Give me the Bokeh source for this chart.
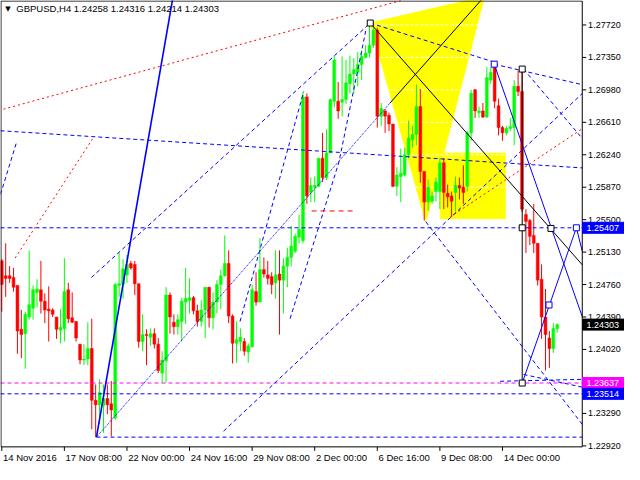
from bokeh.plotting import figure
from bokeh.models import ColumnDataSource
from bokeh.core.properties import value
from bokeh.embed import file_html
from bokeh.resources import INLINE

FONT = "Liberation Sans"

# ---------------- data (H4 candles, bar index 0..142) ----------------
opens = [1.2503, 1.2486, 1.2486, 1.2484, 1.2475, 1.2425, 1.2420, 1.2439, 1.2449, 1.2467,
         1.2470, 1.2457, 1.2448, 1.2447, 1.2439, 1.2424, 1.2426, 1.2470, 1.2438, 1.2434,
         1.2408, 1.2390, 1.2391, 1.2403, 1.2344, 1.2339, 1.2338, 1.2346, 1.2340, 1.2324,
         1.2475, 1.2476, 1.2487, 1.2500, 1.2499, 1.2477, 1.2411, 1.2419, 1.2416, 1.2420,
         1.2408, 1.2375, 1.2389, 1.2464, 1.2433, 1.2428, 1.2434, 1.2456, 1.2458, 1.2461,
         1.2446, 1.2434, 1.2447, 1.2473, 1.2438, 1.2456, 1.2476, 1.2486, 1.2500, 1.2440,
         1.2409, 1.2411, 1.2411, 1.2399, 1.2405, 1.2468, 1.2456, 1.2493, 1.2487, 1.2485,
         1.2478, 1.2488, 1.2481, 1.2497, 1.2507, 1.2514, 1.2530, 1.2526, 1.2690, 1.2581,
         1.2587, 1.2588, 1.2620, 1.2598, 1.2626, 1.2685, 1.2685, 1.2684, 1.2687, 1.2705,
         1.2716, 1.2718, 1.2727, 1.2735, 1.2740, 1.2749, 1.2766, 1.2668, 1.2674, 1.2669,
         1.2659, 1.2588, 1.2599, 1.2601, 1.2624, 1.2641, 1.2647, 1.2679, 1.2605, 1.2570,
         1.2571, 1.2582, 1.2582, 1.2615, 1.2580, 1.2577, 1.2581, 1.2589, 1.2587, 1.2588,
         1.2649, 1.2698, 1.2672, 1.2674, 1.2667, 1.2709, 1.2727, 1.2680, 1.2655, 1.2649,
         1.2654, 1.2655, 1.2702, 1.2696, 1.2556, 1.2549, 1.2532, 1.2523, 1.2482, 1.2439,
         1.2415, 1.2403, 1.24258]
highs = [1.2505, 1.2523, 1.2497, 1.2495, 1.2475, 1.2447, 1.2445, 1.2515, 1.2475, 1.2482,
         1.2503, 1.2466, 1.2474, 1.2449, 1.2439, 1.2448, 1.2506, 1.2478, 1.2467, 1.2434,
         1.2408, 1.2408, 1.2433, 1.2437, 1.2362, 1.2368, 1.2362, 1.2362, 1.2366, 1.2478,
         1.2512, 1.2505, 1.2510, 1.2503, 1.2503, 1.2477, 1.2442, 1.2425, 1.2426, 1.2426,
         1.2415, 1.2400, 1.2473, 1.2467, 1.2442, 1.2442, 1.2461, 1.2495, 1.2483, 1.2463,
         1.2453, 1.2458, 1.2473, 1.2473, 1.2467, 1.2481, 1.2493, 1.2532, 1.2515, 1.2442,
         1.2434, 1.2426, 1.2415, 1.2409, 1.2476, 1.2490, 1.2529, 1.2507, 1.2503, 1.2490,
         1.2515, 1.2515, 1.2506, 1.2518, 1.2543, 1.2534, 1.2555, 1.2696, 1.2694, 1.2598,
         1.2599, 1.2620, 1.2649, 1.2653, 1.2688, 1.2737, 1.2707, 1.2736, 1.2732, 1.2737,
         1.2734, 1.2741, 1.2743, 1.2749, 1.2774, 1.2771, 1.2769, 1.2683, 1.2676, 1.2672,
         1.2659, 1.2610, 1.2631, 1.2632, 1.2663, 1.2657, 1.2704, 1.2699, 1.2605, 1.2596,
         1.2582, 1.2598, 1.2620, 1.2620, 1.2590, 1.2582, 1.2599, 1.2598, 1.2612, 1.2651,
         1.2698, 1.2699, 1.2679, 1.2683, 1.2724, 1.2724, 1.2730, 1.2688, 1.2657, 1.2657,
         1.2666, 1.2709, 1.2720, 1.2722, 1.2562, 1.2551, 1.2568, 1.2523, 1.2499, 1.2471,
         1.2423, 1.2432, 1.24316]
lows = [1.2445, 1.2462, 1.2478, 1.2468, 1.2397, 1.2392, 1.2380, 1.2436, 1.2436, 1.2450,
        1.2443, 1.2432, 1.2411, 1.2439, 1.2414, 1.2409, 1.2411, 1.2432, 1.2432, 1.2411,
        1.2385, 1.2384, 1.2384, 1.2311, 1.2302, 1.2317, 1.2307, 1.2328, 1.2303, 1.2322,
        1.2462, 1.2460, 1.2478, 1.2493, 1.2464, 1.2404, 1.2400, 1.2384, 1.2406, 1.2403,
        1.2375, 1.2364, 1.2364, 1.2420, 1.2419, 1.2419, 1.2411, 1.2431, 1.2443, 1.2442,
        1.2428, 1.2428, 1.2415, 1.2427, 1.2425, 1.2443, 1.2448, 1.2485, 1.2432, 1.2386,
        1.2387, 1.2400, 1.2395, 1.2387, 1.2404, 1.2452, 1.2456, 1.2484, 1.2476, 1.2465,
        1.2460, 1.2419, 1.2443, 1.2473, 1.2497, 1.2512, 1.2523, 1.2523, 1.2568, 1.2570,
        1.2570, 1.2587, 1.2593, 1.2595, 1.2626, 1.2678, 1.2665, 1.2668, 1.2682, 1.2694,
        1.2694, 1.2702, 1.2709, 1.2734, 1.2735, 1.2746, 1.2655, 1.2657, 1.2649, 1.2651,
        1.2587, 1.2577, 1.2570, 1.2599, 1.2620, 1.2632, 1.2635, 1.2592, 1.2549, 1.2560,
        1.2568, 1.2571, 1.2562, 1.2562, 1.2564, 1.2553, 1.2559, 1.2573, 1.2568, 1.2582,
        1.2640, 1.2666, 1.2666, 1.2666, 1.2666, 1.2705, 1.2677, 1.2646, 1.2640, 1.2646,
        1.2651, 1.2635, 1.2691, 1.2559, 1.2512, 1.2521, 1.2512, 1.2475, 1.2414, 1.2378,
        1.2381, 1.2398, 1.24214]
closes = [1.2476, 1.2483, 1.2483, 1.2473, 1.2423, 1.2419, 1.2442, 1.2453, 1.2470, 1.2471,
          1.2457, 1.2447, 1.2446, 1.2442, 1.2425, 1.2427, 1.2468, 1.2437, 1.2433, 1.2415,
          1.2390, 1.2391, 1.2403, 1.2344, 1.2339, 1.2353, 1.2346, 1.2339, 1.2333, 1.2476,
          1.2477, 1.2494, 1.2499, 1.2495, 1.2477, 1.2411, 1.2419, 1.2418, 1.2420, 1.2408,
          1.2378, 1.2390, 1.2464, 1.2439, 1.2428, 1.2436, 1.2457, 1.2460, 1.2461, 1.2446,
          1.2434, 1.2447, 1.2473, 1.2438, 1.2456, 1.2476, 1.2486, 1.2500, 1.2440, 1.2409,
          1.2413, 1.2416, 1.2400, 1.2406, 1.2470, 1.2456, 1.2493, 1.2488, 1.2483, 1.2476,
          1.2487, 1.2481, 1.2497, 1.2507, 1.2520, 1.2531, 1.2539, 1.2690, 1.2577, 1.2589,
          1.2589, 1.2620, 1.2598, 1.2626, 1.2687, 1.2732, 1.2674, 1.2687, 1.2706, 1.2716,
          1.2721, 1.2727, 1.2736, 1.2740, 1.2749, 1.2766, 1.2668, 1.2677, 1.2668, 1.2659,
          1.2588, 1.2601, 1.2603, 1.2624, 1.2643, 1.2647, 1.2679, 1.2605, 1.2570, 1.2587,
          1.2577, 1.2593, 1.2615, 1.2581, 1.2576, 1.2571, 1.2589, 1.2586, 1.2581, 1.2649,
          1.2694, 1.2674, 1.2674, 1.2667, 1.2712, 1.2718, 1.2685, 1.2655, 1.2649, 1.2654,
          1.2656, 1.2702, 1.2696, 1.2562, 1.2548, 1.2531, 1.2523, 1.2481, 1.2439, 1.2419,
          1.2403, 1.2426, 1.24303]

header = "GBPUSD,H4  1.24258 1.24316 1.24214 1.24303"

# price scale ticks (grid) and the ones that carry a visible label
price_ticks = [1.2292, 1.2329, 1.2365, 1.2402, 1.2439, 1.2476, 1.2513, 1.2550,
               1.2587, 1.2624, 1.2661, 1.2698, 1.2735, 1.2772]
price_labels = ["1.22920", "1.23290", "", "1.24020", "1.24390", "1.24760", "1.25130",
                "1.25500", "1.25870", "1.26240", "1.26610", "1.26980", "1.27350", "1.27720"]
time_ticks = [0, 16, 32, 48, 64, 80, 96, 112, 128]
time_labels = ["14 Nov 2016", "17 Nov 08:00", "22 Nov 00:00", "24 Nov 16:00", "29 Nov 08:00",
               "2 Dec 00:00", "6 Dec 16:00", "9 Dec 08:00", "14 Dec 00:00"]

# horizontal price levels with their tags
level_prices = [1.25407, 1.23637, 1.23514, 1.24303]
level_colors = ["#0000FF", "#FF00FF", "#0000FF", "#000000"]
level_lines = [True, True, True, False]
level_dash_colors = ["#0000FF", "#FF00FF", "#0000FF", None]

# analysis drawings (bar index, price)
blue_dash_x = [[24.2, 148.4], [-0.33, 148.4], [-0.33, 3.68],
               [22.9, 94.2], [60.9, 77.2], [73.7, 86.2, 93.2], [56.7, 148.4],
               [108.4, 148.4], [94.2, 125.9], [125.9, 148.4], [133.4, 148.4],
               [127.4, 148.4], [133.4, 148.4]]
blue_dash_y = [[1.2302, 1.2302],
               [1.26514, 1.26090], [1.25789, 1.26369], [1.24840, 1.27742],
               [1.24338, 1.26961], [1.24371, 1.26157, 1.27686], [1.23088, 1.26938],
               [1.25476, 1.23166], [1.27742, 1.27296], [1.27273, 1.27039],
               [1.27217, 1.26426], [1.23657, 1.23679], [1.23735, 1.23590]]
red_dot_x = [[0.43, 103.9], [3.43, 23.4], [114.7, 148.4]]
red_dot_y = [[1.26760, 1.28021], [1.25063, 1.26436], [1.25532, 1.26537]]
red_dash_x = [79.2, 90.4]
red_dash_y = [1.25599, 1.25599]
blue_solid_x = [[125.9, 148.4], [133.05, 146.9], [146.9, 148.4]]
blue_solid_y = [[1.27273, 1.24393], [1.23637, 1.25407], [1.25407, 1.25141]]
steep_x = [24.2, 43.7]
steep_y = [1.2302, 1.28021]
fine_x = [24.2, 99.2]
fine_y = [1.2302, 1.26827]
black_x = [[94.2, 148.4], [99.2, 122.9], [133.05, 133.05]]
black_y = [[1.27742, 1.24985], [1.26827, 1.28021], [1.27217, 1.23637]]
black_sq_x = [94.2, 133.05, 133.05, 133.05, 140.4]
black_sq_y = [1.27742, 1.27217, 1.25407, 1.23637, 1.2540]
blue_sq_x = [125.9, 146.9, 139.9]
blue_sq_y = [1.27273, 1.25407, 1.24527]
tri_x = [94.2, 108.4, 123.4]
tri_y = [1.27742, 1.25476, 1.28044]
rect_x = [112.2, 128.7]
rect_y = [1.25510, 1.26258]

# ---------------- geometry of the chart window ----------------
CX0, CX1 = -0.33, 148.4        # chart area, bars
CY0, CY1 = 1.22909, 1.27999    # chart area, price
XR = (-0.33, 159.2)            # whole canvas incl. price scale
YR = (1.22708, 1.27999)        # whole canvas incl. time scale
BAR_PX = 624 / (XR[1] - XR[0])
PRICE_PX = 464 / (YR[1] - YR[0])
tick_dx = 4 / BAR_PX
tick_dy = 4 / PRICE_PX

p = figure(width=624, height=464, x_range=XR, y_range=YR,
           x_axis_type=None, y_axis_type=None,
           output_backend="svg", toolbar_location=None,
           min_border=0, min_border_left=0, min_border_right=0,
           min_border_top=0, min_border_bottom=0)
p.outline_line_color = None
p.background_fill_color = "white"
p.border_fill_color = "white"
p.grid.visible = False

# yellow background shapes
p.patch(tri_x, tri_y, fill_color="#FFFF00", line_color="#FFFF00", level="image")
p.quad(left=[rect_x[0]], right=[rect_x[1]], bottom=[rect_y[0]], top=[rect_y[1]],
       fill_color="#FFFF00", line_color="#FFFF00", level="image")

# price grid (only visible over the coloured background)
p.multi_line([[CX0, CX1] for _ in price_ticks], [[t, t] for t in price_ticks],
             line_color="white", line_dash="3 2", line_width=1, level="underlay")

# candles
n = len(closes)
idx = list(range(n))
colors = ["#00FF00" if c >= o else "#FF0000" for o, c in zip(opens, closes)]
src = ColumnDataSource(dict(x=idx, h=highs, l=lows,
                            top=[max(o, c) for o, c in zip(opens, closes)],
                            bottom=[min(o, c) for o, c in zip(opens, closes)],
                            color=colors))
p.segment(x0="x", y0="l", x1="x", y1="h", color="color", line_width=1, source=src)
p.vbar(x="x", width=0.72, top="top", bottom="bottom", fill_color="color",
       line_color="color", line_width=0.5, source=src)

# level lines
for v, c, on in zip(level_prices, level_dash_colors, level_lines):
    if on:
        p.line([CX0, CX1], [v, v], line_color=c, line_width=1, line_dash="4 3")

# drawings
p.multi_line(blue_dash_x, blue_dash_y, line_color="#0000FF", line_width=1, line_dash="4 3")
p.multi_line(red_dot_x, red_dot_y, line_color="#FF0000", line_width=1, line_dash="2 3")
p.line(red_dash_x, red_dash_y, line_color="#FF0000", line_width=1, line_dash="5 4")
p.line(fine_x, fine_y, line_color="#0000FF", line_width=1, line_dash="1 1")
p.line(steep_x, steep_y, line_color="#0000FF", line_width=1.6)
p.multi_line(blue_solid_x, blue_solid_y, line_color="#0000FF", line_width=1)
p.multi_line(black_x, black_y, line_color="black", line_width=1)
p.scatter(black_sq_x, black_sq_y, marker="square", size=6, fill_color="white",
          line_color="black", line_width=1)
p.scatter(blue_sq_x, blue_sq_y, marker="square", size=6, fill_color="white",
          line_color="#0000FF", line_width=1)

# chart frame
p.line([CX0 + 0.12, CX0 + 0.12, CX1, CX1, CX0 + 0.12],
       [CY0, CY1 - 0.00006, CY1 - 0.00006, CY0, CY0], line_color="black", line_width=1)

# price scale: ticks and labels
p.segment(x0=[CX1] * len(price_ticks), y0=price_ticks,
          x1=[CX1 + tick_dx] * len(price_ticks), y1=price_ticks, line_color="black")
p.text(x=[CX1 + 1.5] * len(price_ticks), y=price_ticks, text=price_labels,
       text_font=value(FONT), text_font_size=value("9px"), text_align="left",
       text_baseline="middle", text_color="black")

# time scale: ticks and labels
p.segment(x0=time_ticks, y0=[CY0] * len(time_ticks), x1=time_ticks,
          y1=[CY0 - tick_dy] * len(time_ticks), line_color="black")
p.text(x=[t + 0.3 for t in time_ticks], y=[CY0 - 11 / PRICE_PX] * len(time_ticks),
       text=time_labels, text_font=value(FONT), text_font_size=value("9.5px"),
       text_align="left", text_baseline="middle", text_color="black")

# price tags
tag_h = 11 / PRICE_PX
p.quad(left=[CX1 + 0.1] * 4, right=[XR[1]] * 4,
       bottom=[v - tag_h / 2 for v in level_prices], top=[v + tag_h / 2 for v in level_prices],
       fill_color=level_colors, line_color=level_colors)
p.text(x=[CX1 + 1.1] * 4, y=level_prices, text=[f"{v:.5f}" for v in level_prices],
       text_font=value(FONT), text_font_size=value("9px"), text_align="left",
       text_baseline="middle", text_color="white")

# header
p.text(x=[0.9], y=[1.27904], text=["\u25BC"], text_font=value("DejaVu Sans"),
       text_font_size=value("7px"), text_baseline="middle", text_align="left",
       text_color="black")
p.text(x=[3.7], y=[1.27904], text=[header], text_font=value(FONT),
       text_font_size=value("9.5px"), text_baseline="middle", text_align="left",
       text_color="black")

open("out.html", "w").write(file_html(p, INLINE))
